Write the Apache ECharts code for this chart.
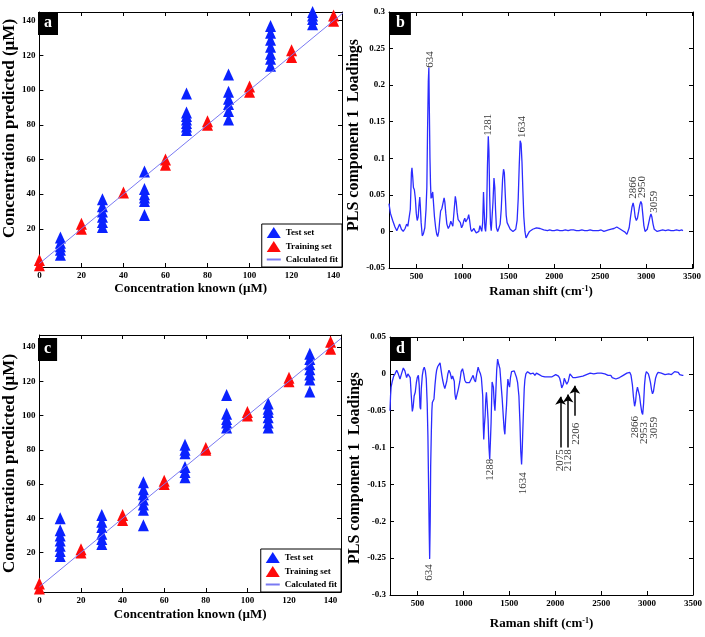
<!DOCTYPE html>
<html><head><meta charset="utf-8">
<script src="https://cdn.jsdelivr.net/npm/echarts@6/dist/echarts.min.js"></script>
<style>html,body{margin:0;padding:0;background:#fff}#c{width:705px;height:637px}</style>
</head><body><div id="c"></div>
<script>
// ---------- data ----------
const testLevels = [10, 30, 50, 70, 90, 110, 130];
const trainLevels = [0, 20, 40, 60, 80, 100, 120, 140];
const aTestPred = [[5,8,10,12,15],[21,24,27,30,33,37],[28,36,38,40,43,53],[77,79,81,83,85,87,98],[83,88,92,95,99,109],[114,118,121,125,129,133,137],[138,141,143,145]];
const aTrainPred = [[-1,2],[20,23],[41],[57,60],[80,82],[99,102],[119,123],[140,143]];
const cTestPred = [[18,21,24,27,30,33,40],[25,28,31,35,38,42],[36,45,48,51,54,57,61],[64,67,70,78,80,83],[93,96,98,101,112],[93,96,99,102,104,107],[114,121,124,127,130,133,136]];
const cTrainPred = [[-1,2],[20,22],[39,42],[60,62],[80,81],[100,102],[120,122],[139,143]];
const fitX = [0, 145];
const concTicks = [0,20,40,60,80,100,120,140];
const predTicks = [20,40,60,80,100,120,140];
const ramanTicks = [500,1000,1500,2000,2500,3000,3500];

const bX = [200,215,240,265,285,300,316,335,355,375,392,405,420,432,444,450,458,466,476,487,497,507,518,526,535,541,550,562,575,590,603,612,620,628,634,640,646,652,658,664,670,676,684,695,708,720,730,742,752,762,775,788,800,808,818,830,845,858,873,885,895,910,922,932,942,953,965,977,990,1002,1015,1025,1035,1047,1058,1068,1078,1090,1100,1112,1125,1135,1150,1165,1178,1190,1200,1210,1220,1229,1236,1244,1252,1262,1272,1281,1288,1296,1305,1313,1322,1332,1343,1352,1360,1370,1383,1395,1410,1422,1437,1447,1456,1466,1476,1486,1496,1506,1520,1535,1550,1565,1580,1595,1607,1618,1628,1638,1648,1658,1668,1680,1692,1704,1716,1730,1745,1765,1785,1805,1825,1845,1865,1885,1905,1925,1950,1975,2000,2030,2060,2090,2120,2150,2180,2210,2240,2270,2300,2330,2360,2390,2420,2450,2480,2510,2540,2560,2590,2620,2650,2680,2700,2720,2745,2770,2790,2800,2815,2830,2845,2858,2868,2880,2893,2905,2918,2930,2942,2952,2962,2975,2988,3000,3012,3025,3040,3052,3062,3075,3088,3100,3120,3150,3180,3210,3240,3270,3300,3330,3360,3390,3400];
const bY = [0.038,0.025,0.015,0.006,0.001,0.003,0.010,0.003,0.000,0.004,0.010,0.007,0.006,0.030,0.080,0.087,0.075,0.060,0.057,0.045,0.025,0.015,0.020,0.035,0.047,0.035,0.012,-0.006,-0.003,0.005,0.030,0.060,0.140,0.205,0.224,0.160,0.100,0.065,0.045,0.052,0.046,0.054,0.040,0.020,0.005,-0.004,-0.007,0.000,0.015,0.028,0.031,0.033,0.046,0.040,0.025,0.010,0.004,0.007,0.014,0.010,0.007,0.030,0.048,0.040,0.026,0.016,0.017,0.012,0.005,0.008,0.015,0.018,0.013,0.012,0.018,0.023,0.015,0.003,0.000,0.002,0.004,0.001,-0.002,-0.002,0.000,0.008,0.004,0.000,0.012,0.054,0.030,0.005,0.000,0.020,0.090,0.130,0.110,0.050,0.010,0.001,0.003,0.040,0.073,0.060,0.030,0.005,0.000,0.004,0.010,0.030,0.072,0.085,0.080,0.050,0.022,0.012,0.014,0.011,0.003,0.002,0.000,0.001,0.003,0.015,0.045,0.090,0.124,0.120,0.095,0.055,0.020,0.000,-0.009,-0.008,-0.003,0.000,0.002,0.003,0.004,0.005,0.005,0.004,0.003,0.002,0.002,0.001,0.002,0.001,0.001,0.002,0.001,0.001,0.002,0.001,0.002,0.002,0.001,0.001,0.002,0.001,0.001,0.002,0.001,0.001,0.001,0.002,0.000,0.002,0.002,0.003,0.004,0.006,0.005,0.003,0.001,-0.001,-0.004,-0.003,0.005,0.020,0.033,0.039,0.033,0.020,0.015,0.018,0.027,0.036,0.041,0.038,0.025,0.008,0.000,-0.001,0.003,0.010,0.019,0.024,0.020,0.010,0.003,0.001,0.000,0.001,0.002,0.001,0.002,0.001,0.001,0.002,0.001,0.002,0.001];

const dX = [200,206,212,225,240,255,273,290,309,325,345,362,381,395,407,420,432,443,452,463,475,487,497,509,518,527,534,541,552,563,573,585,595,605,613,620,627,632,638,643,650,656,661,668,679,690,700,708,720,735,745,755,765,773,785,797,806,818,830,842,856,871,882,893,900,907,917,932,945,961,975,990,1003,1015,1030,1051,1065,1080,1093,1105,1118,1131,1145,1160,1172,1185,1195,1203,1210,1216,1221,1228,1236,1243,1250,1258,1268,1278,1286,1294,1301,1307,1312,1319,1326,1335,1343,1349,1354,1362,1372,1384,1397,1410,1422,1435,1443,1451,1460,1469,1477,1484,1493,1502,1512,1524,1540,1553,1565,1578,1590,1604,1615,1624,1633,1641,1647,1655,1662,1669,1680,1698,1715,1730,1742,1760,1778,1795,1807,1825,1851,1870,1887,1905,1925,1945,1965,1985,2005,2020,2035,2048,2060,2070,2079,2088,2098,2106,2115,2125,2133,2142,2152,2160,2170,2180,2192,2206,2220,2240,2260,2280,2300,2320,2340,2360,2380,2400,2420,2440,2460,2480,2500,2520,2540,2560,2575,2590,2605,2620,2640,2660,2680,2700,2720,2740,2760,2780,2800,2812,2825,2840,2852,2864,2874,2884,2895,2906,2918,2930,2942,2952,2962,2972,2982,2992,3003,3014,3025,3037,3049,3059,3069,3080,3092,3105,3120,3138,3155,3175,3195,3215,3235,3250,3265,3280,3300,3320,3340,3355,3370,3385,3395];
const dY = [-0.050,-0.030,-0.018,-0.010,-0.003,0.000,0.005,0.000,-0.007,0.000,0.008,0.004,-0.005,0.000,0.002,-0.005,-0.030,-0.051,-0.045,-0.030,-0.025,-0.012,-0.005,-0.002,-0.015,-0.045,-0.048,-0.020,-0.002,0.006,0.009,0.004,-0.007,-0.040,-0.085,-0.150,-0.215,-0.251,-0.200,-0.125,-0.080,-0.050,-0.039,-0.037,-0.034,-0.015,-0.002,0.005,0.010,0.012,0.015,0.013,-0.002,-0.008,-0.015,-0.020,-0.021,-0.010,0.000,0.005,0.001,-0.007,-0.003,-0.002,-0.010,-0.027,-0.035,-0.036,-0.020,-0.010,0.003,0.007,0.000,-0.009,-0.012,-0.014,-0.012,-0.011,-0.005,-0.002,-0.008,-0.011,0.000,0.009,0.004,0.000,-0.005,-0.007,-0.030,-0.070,-0.089,-0.070,-0.057,-0.035,-0.025,-0.040,-0.062,-0.100,-0.116,-0.090,-0.066,-0.035,-0.011,-0.012,-0.018,-0.040,-0.050,-0.035,-0.020,0.005,0.020,0.013,0.007,-0.015,-0.034,-0.060,-0.075,-0.082,-0.060,-0.043,-0.020,-0.007,-0.014,-0.018,-0.005,0.003,0.004,0.004,0.002,-0.005,-0.012,-0.030,-0.065,-0.105,-0.123,-0.100,-0.075,-0.045,-0.020,-0.008,0.000,0.003,0.002,0.000,0.002,0.001,-0.002,0.001,0.003,-0.001,-0.003,-0.003,-0.004,-0.003,-0.004,-0.003,-0.004,-0.002,-0.001,-0.002,-0.003,-0.006,-0.012,-0.019,-0.020,-0.014,-0.006,-0.004,-0.008,-0.014,-0.016,-0.010,-0.004,0.000,0.001,-0.002,-0.005,-0.006,-0.005,-0.004,-0.004,-0.003,-0.003,-0.002,-0.001,0.000,0.001,0.001,0.000,0.001,0.001,0.000,0.001,0.001,0.000,-0.001,-0.002,-0.001,-0.002,-0.005,-0.007,-0.007,-0.006,-0.005,-0.004,-0.002,0.000,0.001,0.002,0.002,-0.002,-0.015,-0.032,-0.044,-0.038,-0.025,-0.018,-0.020,-0.030,-0.042,-0.052,-0.055,-0.040,-0.015,-0.002,0.003,0.004,0.000,-0.005,-0.012,-0.022,-0.027,-0.024,-0.015,-0.006,-0.001,0.002,0.002,0.001,-0.001,-0.001,-0.002,0.000,0.002,-0.001,0.001,0.003,0.001,0.002,-0.001,0.000,-0.002,-0.002];

const bPeakText = ['634','1281','1634','2866','2950','3059'];
const bPeakX = [655,1288,1656,2858,2960,3088];
const bPeakY = [0.223,0.130,0.127,0.044,0.045,0.025];
const dPeakText = ['634','1288','1634','2075','2128','2206','2866','2953','3059'];
const dPeakX = [635,1297,1658,2055,2150,2231,2872,2968,3083];
const dPeakY = [-0.259,-0.116,-0.134,-0.103,-0.103,-0.067,-0.058,-0.066,-0.059];
const dArrowX = [2057,2140,2213];
const dArrowFrom = [-0.100,-0.100,-0.057];
const dArrowTo = [-0.031,-0.028,-0.016];

// ---------- styling helpers ----------
const SERIF = 'Liberation Serif';
const BLUE = '#0a22ff', RED = '#ff0a0a', SPEC = '#2b2bff', FIT = '#7a7af2';

function groupData(levels, preds){
  const out = [];
  levels.forEach((x,i)=>preds[i].forEach(v=>out.push([x,v])));
  return out;
}
function zip(xs, ys){ return xs.map((x,i)=>[x, ys[i]]); }

function mainAxis(grid, pos, min, max, ticks, interval, name, nameGap, nameFont, namePad){
  const ax = {
    gridIndex: grid, type: 'value', position: pos, min: min, max: max,
    axisLine: {show: true, onZero: false, lineStyle: {color: '#000', width: 1}},
    axisTick: {show: true, inside: true, length: 4, lineStyle: {color: '#000'}},
    axisLabel: {show: true, margin: 4, color: '#000', fontFamily: SERIF, fontWeight: 'bold', fontSize: 9, showMinLabel: true, showMaxLabel: true},
    splitLine: {show: false},
    name: name, nameLocation: 'middle', nameGap: nameGap,
    nameTextStyle: {color: '#000', fontFamily: SERIF, fontWeight: 'bold', fontSize: nameFont, padding: namePad || 0,
      rich: {sup: {fontSize: 8, fontFamily: SERIF, fontWeight: 'bold', color: '#000', verticalAlign: 'top', lineHeight: 8}}}
  };
  if (ticks) {
    ax.axisTick.customValues = ticks; ax.axisLabel.customValues = ticks;
    ax.axisLabel.formatter = function(v){ return String(v); };
  }
  if (interval) ax.interval = interval;
  return ax;
}
function mirrorAxis(grid, pos, min, max, ticks, interval){
  const ax = {
    gridIndex: grid, type: 'value', position: pos, min: min, max: max,
    axisLine: {show: true, onZero: false, lineStyle: {color: '#000', width: 1}},
    axisTick: {show: true, inside: true, length: 4, lineStyle: {color: '#000'}},
    axisLabel: {show: false}, splitLine: {show: false}
  };
  if (ticks) { ax.axisTick.customValues = ticks; ax.axisLabel.customValues = ticks; }
  if (interval) ax.interval = interval;
  return ax;
}

const xAxes = [
  mainAxis(0,'bottom',0,144,concTicks,null,'Concentration known (\u00b5M)',15,13),
  mainAxis(1,'bottom',200,3510,ramanTicks,null,'Raman shift (cm{sup|-1})',17,13),
  mainAxis(2,'bottom',0,145,concTicks,null,'Concentration known (\u00b5M)',16,13),
  mainAxis(3,'bottom',200,3500,ramanTicks,null,'Raman shift (cm{sup|-1})',22,13),
  mirrorAxis(0,'top',0,144,concTicks,null),
  mirrorAxis(1,'top',200,3510,ramanTicks,null),
  mirrorAxis(2,'top',0,145,concTicks,null),
  mirrorAxis(3,'top',200,3500,ramanTicks,null)
];
const yAxes = [
  mainAxis(0,'left',-2,145,predTicks,null,'Concentration predicted (\u00b5M)',17,17,[0,0,0,22]),
  mainAxis(1,'left',-0.05,0.3,null,0.05,'PLS component 1  Loadings',15,16,[0,0,0,10]),
  mainAxis(2,'left',-3,147,predTicks,null,'Concentration predicted (\u00b5M)',18,17),
  mainAxis(3,'left',-0.3,0.05,null,0.05,'PLS component 1  Loadings',21,16,[0,0,0,-4]),
  mirrorAxis(0,'right',-2,145,predTicks,null),
  mirrorAxis(1,'right',-0.05,0.3,null,0.05),
  mirrorAxis(2,'right',-3,147,predTicks,null),
  mirrorAxis(3,'right',-0.3,0.05,null,0.05)
];

function scatterSeries(name, idx, data, color){
  return {name: name, type: 'scatter', xAxisIndex: idx, yAxisIndex: idx, data: data, clip: false,
    symbol: 'triangle', symbolSize: [11, 12], itemStyle: {color: color, opacity: 1}, z: 3,
    emphasis: {disabled: true}};
}
function fitSeries(idx){
  return {name: 'Calculated fit', type: 'line', xAxisIndex: idx, yAxisIndex: idx,
    data: fitX.map(v=>[v, v]), symbol: 'none', showSymbol: false,
    lineStyle: {color: FIT, width: 1}, itemStyle: {color: FIT}, z: 4, emphasis: {disabled: true}};
}
function specSeries(idx, xs, ys, extra){
  return Object.assign({name: 'spec' + idx, type: 'line', xAxisIndex: idx, yAxisIndex: idx, data: zip(xs, ys),
    symbol: 'none', showSymbol: false, lineStyle: {color: SPEC, width: 1.3}, itemStyle: {color: SPEC},
    z: 3, emphasis: {disabled: true}}, extra || {});
}
function labelSeries(idx, xs, ys, texts, above){
  return {name: 'labels' + idx, type: 'scatter', xAxisIndex: idx, yAxisIndex: idx, clip: false, silent: true,
    data: xs.map((x,i)=>({value: [x, ys[i]], name: texts[i]})),
    symbol: 'circle', symbolSize: 1, itemStyle: {color: 'rgba(0,0,0,0)'},
    label: {show: true, formatter: '{b}', position: [0, 0], rotate: 90,
      align: above ? 'left' : 'right', verticalAlign: 'middle',
      fontFamily: SERIF, fontSize: 11, color: '#000'}, z: 5};
}

const legendCommon = {
  orient: 'vertical',
  data: ['Test set', 'Training set', {name: 'Calculated fit', itemStyle: {opacity: 0, borderWidth: 0}}],
  backgroundColor: '#fff', borderColor: '#000', borderWidth: 1, borderRadius: 0,
  padding: [3, 4, 3, 4], itemGap: 3, itemWidth: 14, itemHeight: 11, selectedMode: false,
  textStyle: {fontFamily: SERIF, fontWeight: 'bold', fontSize: 9, color: '#000'}
};
function panelTitle(t, left, top){
  return {text: t, left: left, top: top, backgroundColor: '#000', padding: [3, 6, 4, 6],
    textStyle: {color: '#fff', fontFamily: SERIF, fontWeight: 'bold', fontSize: 16}};
}

const option = {
  animation: false,
  backgroundColor: '#fff',
  title: [panelTitle('a', 38, 12), panelTitle('b', 390, 12), panelTitle('c', 38, 338), panelTitle('d', 390, 338)],
  grid: [
    {left: 38, top: 12, width: 304, height: 255},
    {left: 389, top: 12, width: 304, height: 256},
    {left: 38, top: 335, width: 303, height: 257},
    {left: 390, top: 337, width: 303, height: 258}
  ],
  legend: [
    Object.assign({right: 363, bottom: 370}, legendCommon),
    Object.assign({right: 364, bottom: 45}, legendCommon)
  ],
  xAxis: xAxes,
  yAxis: yAxes,
  series: [
    scatterSeries('Test set', 0, groupData(testLevels, aTestPred), BLUE),
    scatterSeries('Training set', 0, groupData(trainLevels, aTrainPred), RED),
    fitSeries(0),
    scatterSeries('Test set', 2, groupData(testLevels, cTestPred), BLUE),
    scatterSeries('Training set', 2, groupData(trainLevels, cTrainPred), RED),
    fitSeries(2),
    specSeries(1, bX, bY),
    labelSeries(1, bPeakX, bPeakY, bPeakText, true),
    specSeries(3, dX, dY, {markLine: {silent: true, symbol: ['none', 'arrow'], symbolSize: 8, precision: 3,
      label: {show: false}, emphasis: {disabled: true}, animation: false,
      lineStyle: {color: '#000', width: 1.5, type: 'solid'},
      data: dArrowX.map((x,i)=>[{coord: [x, dArrowFrom[i]]}, {coord: [x, dArrowTo[i]]}])}}),
    labelSeries(3, dPeakX, dPeakY, dPeakText, false)
  ]
};
const chart = echarts.init(document.getElementById('c'), null, {renderer: 'canvas'});
chart.setOption(option);
</script>
</body></html>
